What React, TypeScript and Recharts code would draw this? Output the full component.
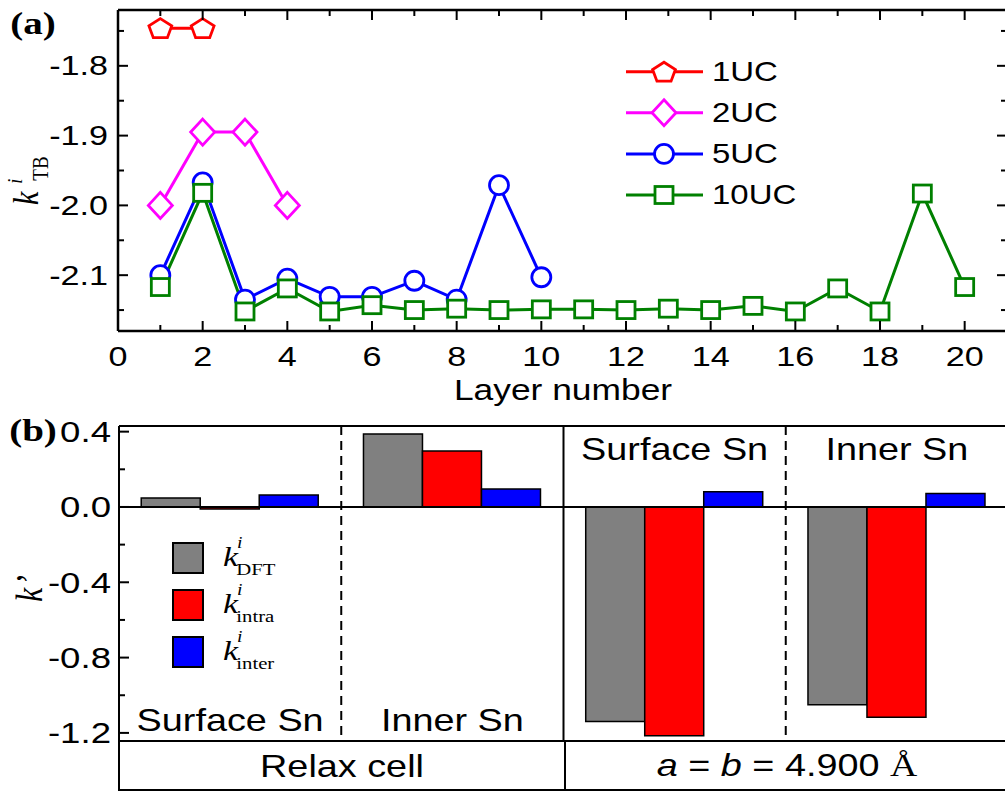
import React from "react";
import { Bar, BarChart, Line, LineChart, ReferenceLine, XAxis, YAxis } from "recharts";

const SANS = '"Liberation Sans", Arial, Helvetica, sans-serif';
const SERIF = '"Liberation Serif", "Times New Roman", serif';
// the source figure is a bit stretched sideways, text follows that
const SX = 1.22;

// (a) k_TB per layer
const layers = [1, 2, 3, 4, 5, 6, 7, 8, 9, 10, 11, 12, 13, 14, 15, 16, 17, 18, 19, 20];
const k1UC = [-1.746, -1.746];
const k2UC = [-2.0, -1.895, -1.895, -2.0];
const k5UC = [-2.1, -1.967, -2.135, -2.105, -2.131, -2.131, -2.108, -2.135, -1.971, -2.103];
const k10UC = [
  -2.117, -1.982, -2.152, -2.119, -2.152, -2.143, -2.15, -2.148, -2.15, -2.149,
  -2.149, -2.15, -2.148, -2.15, -2.144, -2.152, -2.119, -2.152, -1.983, -2.117,
];
const xTicksA = [0, 1, 2, 3, 4, 5, 6, 7, 8, 9, 10, 11, 12, 13, 14, 15, 16, 17, 18, 19, 20];
const yTicksA = [-1.75, -1.8, -1.85, -1.9, -1.95, -2.0, -2.05, -2.1, -2.15];

// (b) k' per site
const sites = ["Surface Sn", "Inner Sn", "Surface Sn", "Inner Sn"];
const slots = [0.5, 1.5, 2.5, 3.5];
const kDFT = [0.048, 0.387, -1.139, -1.05];
const kIntra = [-0.011, 0.297, -1.215, -1.117];
const kInter = [0.064, 0.095, 0.081, 0.071];
const yTicksB = [0.4, 0.2, 0.0, -0.2, -0.4, -0.6, -0.8, -1.0, -1.2];

const seriesA = [
  { key: "uc1", name: "1UC", color: "#ff0000", shape: "pentagon", values: k1UC },
  { key: "uc2", name: "2UC", color: "#ff00ff", shape: "diamond", values: k2UC },
  { key: "uc5", name: "5UC", color: "#0000ff", shape: "circle", values: k5UC },
  { key: "uc10", name: "10UC", color: "#008000", shape: "square", values: k10UC },
];

const seriesB = [
  { key: "dft", sub: "DFT", color: "#808080" },
  { key: "intra", sub: "intra", color: "#ff0000" },
  { key: "inter", sub: "inter", color: "#0000ff" },
];

const dataA = layers.map((layer, i) => {
  const row: Record<string, number | null> = { layer };
  seriesA.forEach((s) => {
    row[s.key] = i < s.values.length ? s.values[i] : null;
  });
  return row;
});

const dataB = sites.map((site, i) => ({
  site,
  slot: slots[i],
  dft: kDFT[i],
  intra: kIntra[i],
  inter: kInter[i],
}));

const isMultiple = (v: number, step: number) =>
  Math.abs(v / step - Math.round(v / step)) < 1e-6;

function SText({
  x,
  y,
  size,
  anchor = "middle",
  family = SANS,
  weight,
  baseline = "central",
  children,
}: any) {
  return (
    <g transform={`translate(${x},${y}) scale(${SX},1)`}>
      <text
        x={0}
        y={0}
        fontSize={size}
        fontFamily={family}
        fontWeight={weight}
        textAnchor={anchor}
        dominantBaseline={baseline}
        fill="#000"
      >
        {children}
      </text>
    </g>
  );
}

// inward tick marks, labels only on the major ones
function makeTick(
  side: "left" | "right" | "top" | "bottom",
  major: (v: number) => boolean,
  label?: (v: number) => string,
  fontSize = 28,
  gap = 10,
) {
  return (props: any) => {
    const { x, y, payload } = props;
    const v = Number(payload.value);
    const big = major(v);
    const len = big ? 10 : 6;
    let x2 = x;
    let y2 = y;
    if (side === "left") x2 = x + len;
    else if (side === "right") x2 = x - len;
    else if (side === "bottom") y2 = y - len;
    else y2 = y + len;
    return (
      <g>
        <line x1={x} y1={y} x2={x2} y2={y2} stroke="#000" strokeWidth={2} />
        {label && big && side === "left" && (
          <SText x={x - gap} y={y} size={fontSize} anchor="end">
            {label(v)}
          </SText>
        )}
        {label && big && side === "bottom" && (
          <SText x={x} y={y + gap} size={fontSize}>
            {label(v)}
          </SText>
        )}
      </g>
    );
  };
}

function Marker({ shape, cx, cy, color }: any) {
  if (cx == null || cy == null || Number.isNaN(cx) || Number.isNaN(cy)) return <g />;
  const common = { fill: "#fff", stroke: color, strokeWidth: 2.8 };
  if (shape === "pentagon") {
    const pts = [0, 1, 2, 3, 4]
      .map((k) => {
        const a = -Math.PI / 2 + (k * 2 * Math.PI) / 5;
        return `${cx + 12 * Math.cos(a)},${cy + 1 + 10.5 * Math.sin(a)}`;
      })
      .join(" ");
    return <polygon points={pts} {...common} />;
  }
  if (shape === "diamond") {
    const pts = `${cx},${cy - 13} ${cx + 12},${cy} ${cx},${cy + 13} ${cx - 12},${cy}`;
    return <polygon points={pts} {...common} />;
  }
  if (shape === "circle") return <circle cx={cx} cy={cy} r={9.5} {...common} />;
  return <rect x={cx - 9} y={cy - 8.5} width={18} height={17} {...common} />;
}

const SiteTick = (props: any) => {
  const { x, index, payload } = props;
  // relaxed-cell names sit at the bottom of the box, strained ones at the top
  const y = index < 2 ? 320 : 49;
  return (
    <SText x={x} y={y} size={31}>
      {payload.value}
    </SText>
  );
};

const axisStroke = { stroke: "#000", strokeWidth: 2.5 };

function PanelA() {
  const majorX = (v: number) => isMultiple(v, 2);
  const majorY = (v: number) => isMultiple(v, 0.1);
  return (
    <LineChart width={1020} height={400} data={dataA} margin={{ top: 9, right: 12, left: 0, bottom: 0 }}>
      <XAxis
        xAxisId="layer"
        type="number"
        dataKey="layer"
        domain={[0, 21]}
        allowDataOverflow
        ticks={xTicksA}
        interval={0}
        height={69}
        tickLine={false}
        tickSize={0}
        tickMargin={0}
        axisLine={axisStroke}
        tick={makeTick("bottom", majorX, (v) => String(v), 28, 26)}
      />
      <XAxis
        xAxisId="top"
        orientation="top"
        type="number"
        dataKey="layer"
        domain={[0, 21]}
        allowDataOverflow
        ticks={xTicksA}
        interval={0}
        height={1}
        tickLine={false}
        tickSize={0}
        tickMargin={0}
        axisLine={axisStroke}
        tick={makeTick("top", majorX)}
      />
      <YAxis
        yAxisId="k"
        type="number"
        domain={[-2.18, -1.72]}
        allowDataOverflow
        ticks={yTicksA}
        interval={0}
        width={118}
        tickLine={false}
        tickSize={0}
        tickMargin={0}
        axisLine={axisStroke}
        tick={makeTick("left", majorY, (v) => v.toFixed(1), 28, 10)}
      />
      <YAxis
        yAxisId="right"
        orientation="right"
        type="number"
        domain={[-2.18, -1.72]}
        allowDataOverflow
        ticks={yTicksA}
        interval={0}
        width={1}
        tickLine={false}
        tickSize={0}
        tickMargin={0}
        axisLine={axisStroke}
        tick={makeTick("right", majorY)}
      />
      {seriesA.map((s) => (
        <Line
          key={s.key}
          xAxisId="layer"
          yAxisId="k"
          dataKey={s.key}
          stroke={s.color}
          strokeWidth={3}
          isAnimationActive={false}
          activeDot={false}
          dot={(p: any) => (
            <Marker key={`${s.key}-${p.index}`} shape={s.shape} cx={p.cx} cy={p.cy} color={s.color} />
          )}
        />
      ))}
    </LineChart>
  );
}

function PanelB() {
  const majorY = (v: number) => isMultiple(v, 0.4);
  return (
    <BarChart
      width={1020}
      height={393}
      data={dataB}
      margin={{ top: 25, right: 12, left: 0, bottom: 0 }}
      barGap={0}
      barCategoryGap="10%"
    >
      <XAxis
        xAxisId="site"
        dataKey="site"
        height={52}
        interval={0}
        tickLine={false}
        tickSize={0}
        tickMargin={0}
        axisLine={{ stroke: "#000", strokeWidth: 2 }}
        tick={SiteTick}
      />
      <XAxis
        xAxisId="edge"
        type="number"
        dataKey="slot"
        orientation="top"
        domain={[0, 4]}
        allowDataOverflow
        height={1}
        tick={false}
        tickLine={false}
        axisLine={{ stroke: "#000", strokeWidth: 2 }}
      />
      <YAxis
        yAxisId="k"
        type="number"
        domain={[-1.243, 0.43]}
        allowDataOverflow
        ticks={yTicksB}
        interval={0}
        width={119}
        tickLine={false}
        tickSize={0}
        tickMargin={0}
        axisLine={{ stroke: "#000", strokeWidth: 2 }}
        tick={makeTick("left", majorY, (v) => v.toFixed(1), 30, 8)}
      />
      <ReferenceLine xAxisId="edge" yAxisId="k" x={1} stroke="#000" strokeWidth={2} strokeDasharray="9 6" />
      <ReferenceLine xAxisId="edge" yAxisId="k" x={2} stroke="#000" strokeWidth={2} />
      <ReferenceLine xAxisId="edge" yAxisId="k" x={3} stroke="#000" strokeWidth={2} strokeDasharray="9 6" />
      <ReferenceLine xAxisId="edge" yAxisId="k" y={0} stroke="#000" strokeWidth={2} />
      {seriesB.map((s) => (
        <Bar
          key={s.key}
          xAxisId="site"
          yAxisId="k"
          dataKey={s.key}
          fill={s.color}
          stroke="#000"
          strokeWidth={1.5}
          isAnimationActive={false}
        />
      ))}
    </BarChart>
  );
}

function Overlay() {
  return (
    <svg
      width={1005}
      height={793}
      style={{ position: "absolute", left: 0, top: 0, pointerEvents: "none" }}
    >
      <SText x={33} y={23} size={32} family={SERIF} weight="bold">(a)</SText>
      <SText x={33} y={430} size={32} family={SERIF} weight="bold">(b)</SText>

      {/* y title (a) */}
      <g transform="translate(38,205) rotate(-90) scale(1,1.2)">
        <text x={0} y={0} fontFamily={SERIF} fill="#000">
          <tspan fontStyle="italic" fontSize={30}>k</tspan>
          <tspan fontStyle="italic" fontSize={18} dx={8} dy={-13}>i</tspan>
          <tspan fontSize={19} dx={-2} dy={21}>TB</tspan>
        </text>
      </g>
      <SText x={563} y={390} size={29}>Layer number</SText>

      {/* legend (a) */}
      {seriesA.map((s, i) => {
        const y = 71.7 + i * 41.1;
        return (
          <g key={s.key}>
            <line x1={626} x2={703} y1={y} y2={y} stroke={s.color} strokeWidth={3} />
            <Marker shape={s.shape} cx={664} cy={y} color={s.color} />
            <SText x={712} y={y} size={27} anchor="start">{s.name}</SText>
          </g>
        );
      })}

      {/* y title (b) */}
      <g transform="translate(42,602) rotate(-90) scale(1,1.2)">
        <text x={0} y={0} fontFamily={SERIF} fontStyle="italic" fontSize={32} fill="#000">
          k<tspan dx={2}>’</tspan>
        </text>
      </g>

      {/* legend (b) */}
      {seriesB.map((s, i) => {
        const y = 543 + i * 47;
        return (
          <g key={s.key}>
            <rect x={173} y={y} width={30} height={30} fill={s.color} stroke="#000" strokeWidth={2} />
            <g transform={`translate(223,${y + 23}) scale(${SX},1)`}>
              <text x={0} y={0} fontFamily={SERIF} fill="#000">
                <tspan fontStyle="italic" fontSize={28}>k</tspan>
                <tspan fontStyle="italic" fontSize={16} dx={-1} dy={-18}>i</tspan>
                <tspan fontSize={17} dx={-5} dy={27}>{s.sub}</tspan>
              </text>
            </g>
          </g>
        );
      })}

      {/* table row under (b) */}
      <line x1={119} x2={1005} y1={790} y2={790} stroke="#000" strokeWidth={2} />
      <line x1={119} x2={119} y1={740} y2={791} stroke="#000" strokeWidth={2} />
      <line x1={565} x2={565} y1={740} y2={791} stroke="#000" strokeWidth={2} />
      <SText x={342} y={766} size={31}>Relax cell</SText>
      <g transform={`translate(787,765) scale(${SX},1)`}>
        <text x={0} y={0} fontSize={31} fontFamily={SANS} textAnchor="middle" dominantBaseline="central" fill="#000">
          <tspan fontStyle="italic">a</tspan>
          {" = "}
          <tspan fontStyle="italic">b</tspan>
          {" = 4.900 "}
          <tspan fontFamily={SERIF}>Å</tspan>
        </text>
      </g>
    </svg>
  );
}

export default function App() {
  return (
    <div
      style={{
        position: "absolute",
        left: 0,
        top: 0,
        width: 1005,
        height: 793,
        overflow: "hidden",
        background: "#fff",
      }}
    >
      <div style={{ position: "absolute", left: 0, top: 0 }}>
        <PanelA />
      </div>
      <div style={{ position: "absolute", left: 0, top: 400 }}>
        <PanelB />
      </div>
      <Overlay />
    </div>
  );
}
